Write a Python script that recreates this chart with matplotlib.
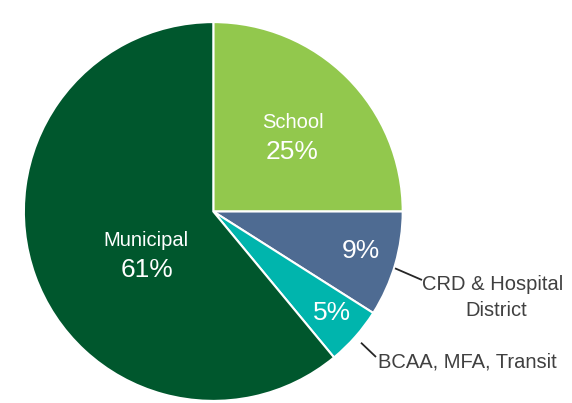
import matplotlib
matplotlib.use("Agg")
import matplotlib.pyplot as plt

plt.rcParams['font.family'] = ['Liberation Sans', 'DejaVu Sans']

categories = ['School', 'CRD & Hospital\nDistrict', 'BCAA, MFA, Transit', 'Municipal']
shares = [25, 9, 5, 61]
colors = ['#92C84D', '#4E6B92', '#00B5AD', '#00572D']

W, H = 572, 403
fig = plt.figure(figsize=(W / 100, H / 100), dpi=100)
ax = fig.add_axes([0, 0, 1, 1])

def py(y):  # pixel row (from top) -> axes y
    return H - y

cx, cy, r = 213.3, 211.5, 189.4
ax.pie(shares, colors=colors, startangle=90, counterclock=False,
       center=(cx, py(cy)), radius=r,
       wedgeprops=dict(edgecolor='white', linewidth=1.5))

# pie() changes limits, set them afterwards
ax.set_xlim(0, W)
ax.set_ylim(0, H)
ax.set_aspect('equal')
ax.axis('off')

lab, pct = 14.5, 19

# labels inside slices
ax.text(292.7, py(122), 'School', color='white', fontsize=lab, ha='center', va='center')
ax.text(292.5, py(152), f'{shares[0]}%', color='white', fontsize=pct, ha='center', va='center')
ax.text(146, py(240), 'Municipal', color='white', fontsize=lab, ha='center', va='center')
ax.text(147.5, py(270), f'{shares[3]}%', color='white', fontsize=pct, ha='center', va='center')
ax.text(361, py(251.5), f'{shares[1]}%', color='white', fontsize=pct, ha='center', va='center')
ax.text(332, py(313), f'{shares[2]}%', color='white', fontsize=pct, ha='center', va='center')

# outside labels with leader lines
txt = '#404040'
ax.plot([395, 422], [py(268.3), py(280)], color='#262626', lw=1.3, solid_capstyle='butt')
ax.text(492.5, py(285), 'CRD & Hospital', color=txt, fontsize=lab, ha='center', va='center')
ax.text(496, py(310), 'District', color=txt, fontsize=lab, ha='center', va='center')
ax.plot([361, 376], [py(342.7), py(357)], color='#262626', lw=1.3, solid_capstyle='butt')
ax.text(378, py(362), categories[2], color=txt, fontsize=lab, ha='left', va='center')

fig.savefig('out.png', dpi=100)
